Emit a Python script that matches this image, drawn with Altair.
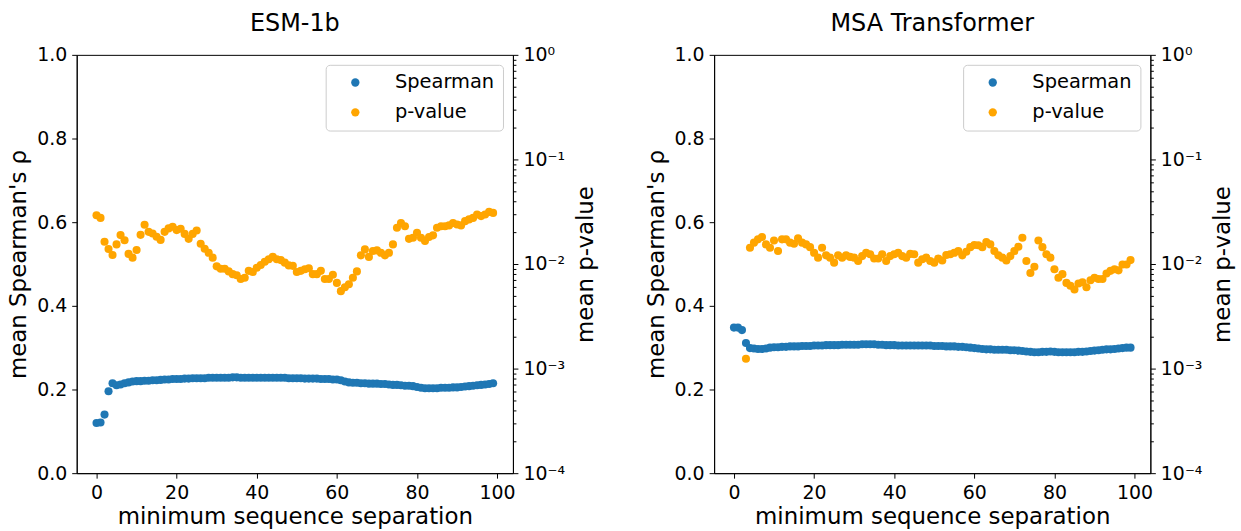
import altair as alt
import pandas as pd

# ---------------- data ----------------
sep = list(range(100))

esm_spearman = [
    0.120, 0.121, 0.140, 0.196, 0.215, 0.210, 0.212, 0.215, 0.217, 0.219,
    0.220, 0.220, 0.221, 0.221, 0.222, 0.222, 0.223, 0.224, 0.224, 0.225,
    0.225, 0.225, 0.226, 0.226, 0.227, 0.227, 0.227, 0.227, 0.228, 0.228,
    0.228, 0.228, 0.228, 0.228, 0.229, 0.229, 0.228, 0.228, 0.228, 0.228,
    0.228, 0.228, 0.228, 0.228, 0.228, 0.228, 0.228, 0.228, 0.227, 0.227,
    0.227, 0.227, 0.226, 0.226, 0.226, 0.226, 0.225, 0.225, 0.225, 0.224,
    0.224, 0.222, 0.219, 0.217, 0.216, 0.216, 0.215, 0.215, 0.214, 0.214,
    0.214, 0.213, 0.213, 0.212, 0.211, 0.211, 0.210, 0.209, 0.209, 0.208,
    0.206, 0.204, 0.203, 0.203, 0.203, 0.203, 0.204, 0.204, 0.204, 0.205,
    0.205, 0.206, 0.207, 0.208, 0.209, 0.210, 0.211, 0.212, 0.213, 0.215,
]

esm_pvalue = [
    0.0293, 0.0276, 0.0163, 0.0139, 0.0122, 0.0154, 0.0189, 0.0169, 0.0125, 0.0115,
    0.0136, 0.0190, 0.0237, 0.0203, 0.0196, 0.0182, 0.0170, 0.0203, 0.0219, 0.0227,
    0.0211, 0.0217, 0.0194, 0.0174, 0.0194, 0.0209, 0.0156, 0.0140, 0.0128, 0.0115,
    0.0095, 0.0090, 0.0090, 0.0085, 0.0080, 0.0078, 0.0072, 0.0074, 0.0086, 0.0084,
    0.0092, 0.0098, 0.0105, 0.0111, 0.0117, 0.0111, 0.0109, 0.0103, 0.0097, 0.0096,
    0.0084, 0.0086, 0.0089, 0.0091, 0.0080, 0.0080, 0.0086, 0.0072, 0.0072, 0.0079,
    0.0066, 0.0055, 0.0060, 0.0064, 0.0074, 0.0085, 0.0121, 0.0138, 0.0117, 0.0133,
    0.0135, 0.0128, 0.0121, 0.0128, 0.0154, 0.0222, 0.0247, 0.0230, 0.0174, 0.0178,
    0.0199, 0.0178, 0.0166, 0.0181, 0.0188, 0.0222, 0.0230, 0.0230, 0.0234, 0.0247,
    0.0239, 0.0234, 0.0257, 0.0267, 0.0276, 0.0297, 0.0287, 0.0297, 0.0315, 0.0308,
]

msa_spearman = [
    0.348, 0.348, 0.342, 0.311, 0.299, 0.298, 0.297, 0.297, 0.298, 0.300,
    0.301, 0.301, 0.302, 0.302, 0.303, 0.303, 0.303, 0.304, 0.304, 0.304,
    0.305, 0.305, 0.305, 0.306, 0.306, 0.306, 0.306, 0.307, 0.307, 0.307,
    0.307, 0.307, 0.308, 0.308, 0.308, 0.308, 0.307, 0.307, 0.306, 0.306,
    0.306, 0.305, 0.305, 0.305, 0.305, 0.305, 0.305, 0.305, 0.305, 0.305,
    0.304, 0.304, 0.304, 0.303, 0.303, 0.303, 0.302, 0.302, 0.301, 0.300,
    0.299, 0.298, 0.297, 0.296, 0.296, 0.295, 0.295, 0.295, 0.295, 0.294,
    0.294, 0.293, 0.292, 0.291, 0.290, 0.289, 0.289, 0.290, 0.290, 0.291,
    0.290, 0.289, 0.289, 0.289, 0.289, 0.289, 0.290, 0.290, 0.291, 0.292,
    0.293, 0.294, 0.295, 0.296, 0.296, 0.297, 0.298, 0.299, 0.300, 0.300,
]

msa_pvalue = [
    None, None, None, 0.00124, 0.0143, 0.0160, 0.0172, 0.0181, 0.0154, 0.0143,
    0.0168, 0.0133, 0.0172, 0.0172, 0.0160, 0.0156, 0.0176, 0.0160, 0.0154, 0.0145,
    0.0128, 0.0115, 0.0143, 0.0121, 0.0115, 0.0103, 0.0121, 0.0115, 0.0121, 0.0117,
    0.0115, 0.0107, 0.0119, 0.0128, 0.0124, 0.0113, 0.0113, 0.0124, 0.0107, 0.0119,
    0.0124, 0.0128, 0.0119, 0.0115, 0.0125, 0.0124, 0.0103, 0.0111, 0.0115, 0.0107,
    0.0103, 0.0113, 0.0108, 0.0122, 0.0124, 0.0128, 0.0133, 0.0121, 0.0131, 0.0145,
    0.0152, 0.0151, 0.0145, 0.0162, 0.0154, 0.0133, 0.0121, 0.0115, 0.0108, 0.0119,
    0.0133, 0.0146, 0.0178, 0.0107, 0.0082, 0.0094, 0.0168, 0.0145, 0.0124, 0.0115,
    0.0089, 0.0074, 0.0080, 0.0066, 0.0062, 0.0057, 0.0065, 0.0067, 0.0060, 0.0070,
    0.0074, 0.0072, 0.0072, 0.0081, 0.0086, 0.0089, 0.0087, 0.0099, 0.0099, 0.0109,
]

series_names = ["Spearman", "p-value"]
series_colors = ["#1f77b4", "#ffa500"]
x_ticks = [0, 20, 40, 60, 80, 100]
rho_ticks = [0.0, 0.2, 0.4, 0.6, 0.8, 1.0]
p_major = [1e-4, 1e-3, 1e-2, 1e-1, 1.0]
p_minor = [k * 10.0 ** e for e in (-4, -3, -2, -1) for k in range(2, 10)]

FONT = "DejaVu Sans"
PW, PH = 438, 420
XDOM = [-4.95, 103.95]
TICK_FS = 19
TITLE_FS = 23

color_scale = alt.Scale(domain=series_names, range=series_colors)

p_label_expr = (
    "datum.value >= 0.5 ? '10\u2070' : datum.value >= 0.05 ? '10\u207b\u00b9' : "
    "datum.value >= 0.005 ? '10\u207b\u00b2' : datum.value >= 0.0005 ? '10\u207b\u00b3' : '10\u207b\u2074'"
)


def panel(title, rho, pv):
    df_r = pd.DataFrame({"sep": sep, "val": rho, "series": "Spearman"})
    df_p = pd.DataFrame({"sep": sep, "val": pv, "series": "p-value"}).dropna()
    df_minor = pd.DataFrame({"val": p_minor})

    xenc = alt.X(
        "sep:Q",
        scale=alt.Scale(domain=XDOM, nice=False, zero=False),
        axis=alt.Axis(values=x_ticks, format="d", title="minimum sequence separation",
                      titlePadding=4, labelPadding=5),
    )
    legend = alt.Legend(
        title=None, orient="top-right", offset=10, padding=8,
        strokeColor="#cccccc", fillColor="rgba(255,255,255,0.8)", cornerRadius=4,
        labelFontSize=19.5, labelFont=FONT, labelOffset=30, symbolOffset=12,
        symbolSize=70, symbolType="circle", rowPadding=9, labelColor="black",
    )

    rho_layer = alt.Chart(df_r).mark_circle(size=66, opacity=1).encode(
        x=xenc,
        y=alt.Y("val:Q", scale=alt.Scale(domain=[0, 1], nice=False),
                axis=alt.Axis(orient="left", values=rho_ticks, format=".1f",
                              title="mean Spearman's \u03c1", titlePadding=6, labelPadding=5)),
        color=alt.Color("series:N", scale=color_scale, legend=legend),
    )

    p_scale = alt.Scale(type="log", domain=[1e-4, 1], nice=False)
    p_layer = alt.Chart(df_p).mark_circle(size=66, opacity=1).encode(
        x=xenc,
        y=alt.Y("val:Q", scale=p_scale,
                axis=alt.Axis(orient="right", values=p_major, labelExpr=p_label_expr,
                              title="mean p-value", titlePadding=10, labelPadding=5,
                              titleAngle=270, titleBaseline="top")),
        color=alt.Color("series:N", scale=color_scale, legend=legend),
    )
    minor_layer = alt.Chart(df_minor).mark_point(opacity=0).encode(
        x=alt.value(0),
        y=alt.Y("val:Q", scale=p_scale,
                axis=alt.Axis(orient="right", values=p_minor, labels=False, tickSize=3,
                              domain=False, title=None)),
    )
    right = alt.layer(p_layer, minor_layer).resolve_axis(y="independent")

    return alt.layer(rho_layer, right).resolve_scale(y="independent").properties(
        width=PW, height=PH,
        title=alt.TitleParams(title, fontSize=24, font=FONT, fontWeight="normal",
                              offset=10, color="black"),
    )


chart = alt.hconcat(
    panel("ESM-1b", esm_spearman, esm_pvalue),
    panel("MSA Transformer", msa_spearman, msa_pvalue),
    spacing=46,
).resolve_scale(color="independent").properties(
    padding={"left": 7, "top": 10, "right": 5, "bottom": 0}
).configure(font=FONT).configure_axis(
    labelFontSize=TICK_FS, titleFontSize=TITLE_FS, titleFontWeight="normal",
    labelFont=FONT, titleFont=FONT, labelColor="black", titleColor="black",
    domainColor="black", tickColor="black", tickSize=5, grid=False,
).configure_view(stroke="black", strokeWidth=1)

chart.save("out.html", embed_options={"renderer": "svg", "actions": False})
